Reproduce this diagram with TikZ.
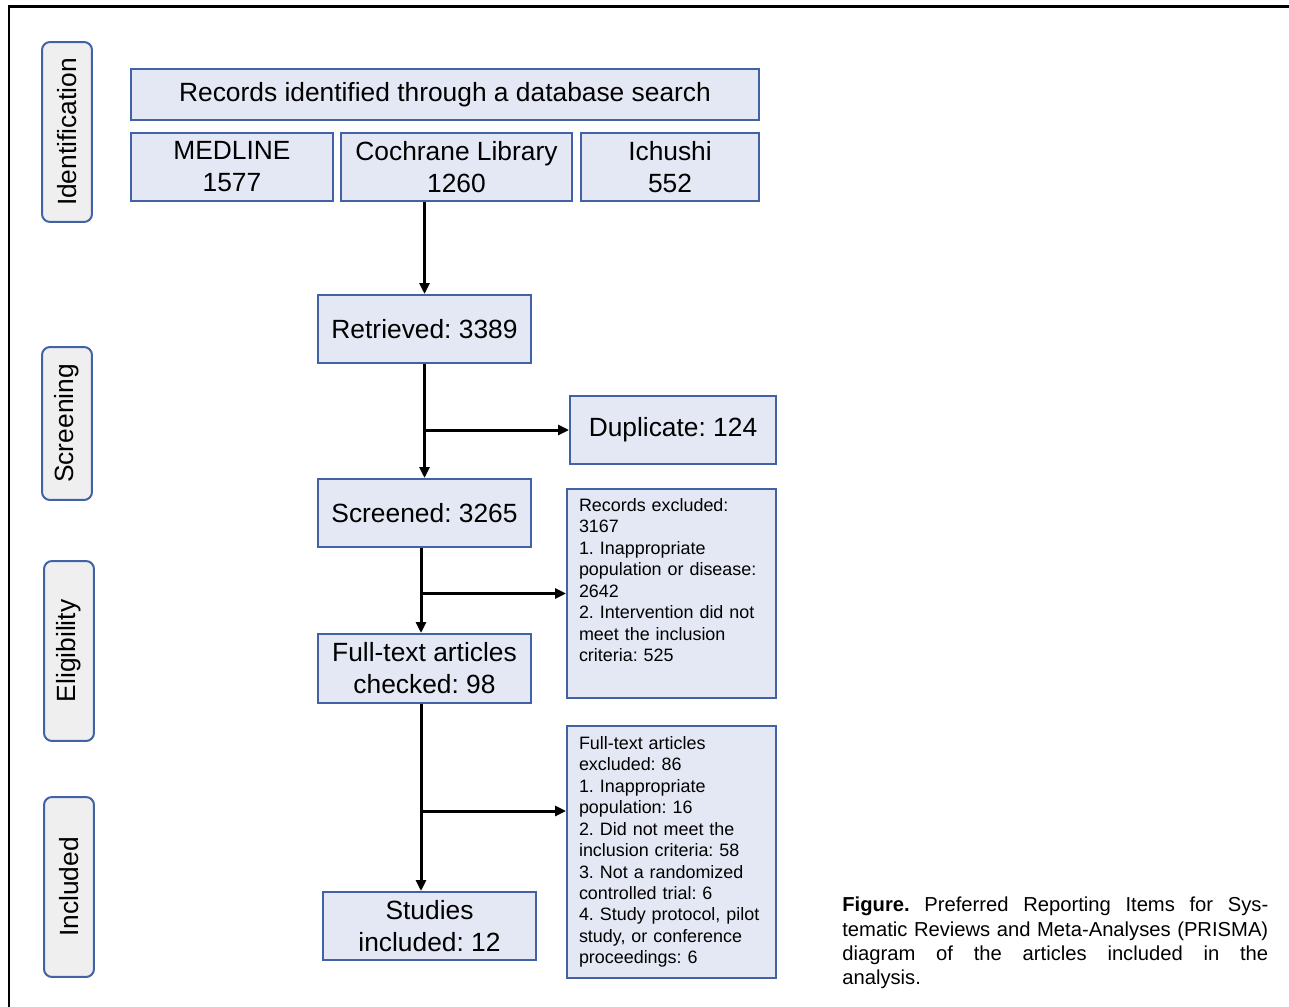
\documentclass[tikz,border=0pt]{standalone}
\usepackage{fontspec}
\setmainfont{Liberation Sans}
\frenchspacing
\usetikzlibrary{arrows.meta,calc}
\definecolor{boxfill}{HTML}{E3E8F4}
\definecolor{boxline}{HTML}{4163A5}
\definecolor{tabfill}{HTML}{EFEFEF}
\tikzset{
  box/.style={draw=boxline, fill=boxfill, line width=0.04cm, align=center, inner sep=2pt,
    font=\fontsize{15}{18.2}\selectfont},
  smallbox/.style={box, align=left, text width=3.7cm, inner xsep=0.24cm,
    font=\fontsize{10.2}{12.2}\selectfont},
  stagetab/.style={draw=boxline, fill=tabfill, line width=0.04cm, rounded corners=0.16cm,
    rotate=90, minimum height=1cm, font=\fontsize{15}{18}\selectfont},
  arr/.style={line width=0.06cm, -{Triangle[length=0.22cm,width=0.2cm]}}
}

\begin{document}
\begin{tikzpicture}[x=0.02cm, y=-0.02cm]
  \useasboundingbox (0,0) rectangle (1289,1007);
  \draw[line width=0.06cm] (9,1007) -- (9,7) -- (1289,7);

  \node[stagetab, minimum width=3.6cm]  (ident)  at (67,132)   {Identification};
  \node[stagetab, minimum width=3.06cm] (screen) at (67,423.5) {Screening};
  \node[stagetab, minimum width=3.6cm]  (elig)   at (69,651)   {Eligibility};
  \node[stagetab, minimum width=3.6cm]  (incl)   at (69,887)   {Included};

  \node[box, minimum width=12.56cm, minimum height=1.02cm] (records)  at (445,94.5) {Records identified through a database search};
  \node[box, minimum width=4.04cm, minimum height=1.36cm]  (medline)  at (232,167)   {MEDLINE\\1577};
  \node[box, minimum width=4.62cm, minimum height=1.36cm]  (cochrane) at (456.5,167) {Cochrane Library\\1260};
  \node[box, minimum width=3.56cm, minimum height=1.36cm]  (ichushi)  at (670,167)   {Ichushi\\552};

  \node[box, minimum width=4.26cm, minimum height=1.36cm]  (retrieved) at (424.5,329) {Retrieved: 3389};
  \node[box, minimum width=4.12cm, minimum height=1.36cm]  (duplicate) at (673,430)   {Duplicate: 124};
  \node[box, minimum width=4.26cm, minimum height=1.36cm]  (screened)  at (424.5,513) {Screened: 3265};
  \node[smallbox, minimum height=4.18cm] (recexcl) at (671.5,593.5)
    {\parbox[c][3.8cm][t]{3.7cm}{Records excluded:\\3167\\1. Inappropriate\\population or disease:\\2642\\2. Intervention did not\\meet the inclusion\\criteria: 525}};
  \node[box, minimum width=4.26cm, minimum height=1.38cm]  (fulltext)  at (424.5,668.5) {Full-text articles\\checked: 98};
  \node[smallbox, minimum height=5.04cm] (ftexcl) at (671.5,852)
    {Full-text articles\\excluded: 86\\1. Inappropriate\\population: 16\\2. Did not meet the\\inclusion criteria: 58\\3. Not a randomized\\controlled trial: 6\\4. Study protocol, pilot\\study, or conference\\proceedings: 6};
  \node[box, minimum width=4.26cm, minimum height=1.36cm]  (studies)   at (429.5,926) {Studies\\included: 12};

  \coordinate (spine) at (421,0);
  \coordinate (ftbranch) at (421,811);
  \path[arr]
  (retrieved.north |- cochrane.south) edge (retrieved.north)
  (retrieved) edge (screened)
  (retrieved.south |- duplicate.west) edge (duplicate.west)
  (screened.south -| spine) edge (fulltext.north -| spine)
  (spine |- recexcl.west) edge (recexcl.west)
  (fulltext.south -| spine) edge (studies.north -| spine)
  (ftbranch) edge (ftbranch -| ftexcl.west);

  \node[anchor=north west, text width=8.52cm, align=justify, inner sep=0pt,
    font=\fontsize{11.5}{13.7}\selectfont] (caption) at (842,897)
    {\textbf{Figure.} Preferred Reporting Items for Sys-\linebreak tematic Reviews and Meta-Analyses (PRISMA)\linebreak diagram of the articles included in the\linebreak analysis.};
\end{tikzpicture}
\end{document}
